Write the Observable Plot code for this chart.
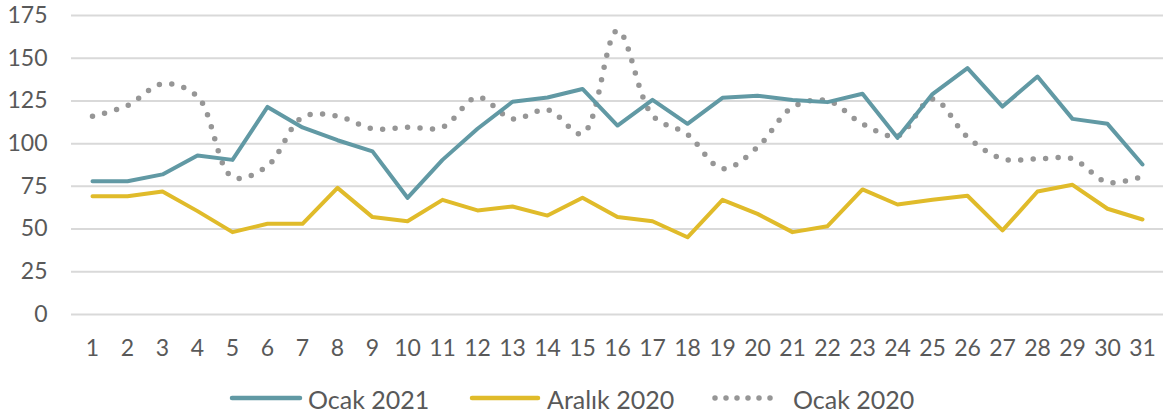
<!DOCTYPE html>
<html>
<head>
<meta charset="utf-8">
<script src="https://cdn.jsdelivr.net/npm/d3@7"></script>
<script src="https://cdn.jsdelivr.net/npm/@observablehq/plot@0.6"></script>
<style>
  body { margin: 0; background: #fff; font-family: Lato, sans-serif; }
  #legend { position: relative; width: 1172px; height: 45px; }
  #legend svg { position: absolute; left: 0; top: 0; }
</style>
</head>
<body>
<div id="chart"></div>
<div id="legend"></div>
<script>
const days = d3.range(1, 32).map(String);
const ocak2021 = [78, 78, 82, 93, 90.5, 121.5, 109.5, 102, 95.5, 68.3, 90.5, 108.7, 124.5, 127, 132, 110.6, 125.6, 111.6, 126.8, 128, 125.6, 124.3, 129.2, 103.4, 129, 144.2, 121.7, 139.3, 114.5, 111.6, 87.8];
const aralik2020 = [69.2, 69.2, 72, 60.5, 48.2, 53.1, 53.1, 74.1, 57, 54.6, 67.1, 60.9, 63.2, 57.9, 68.3, 57, 54.6, 45.2, 67.1, 58.9, 48.2, 51.7, 73.2, 64.4, 67.1, 69.5, 49.2, 72, 75.9, 61.9, 55.6];
const ocak2020 = [116, 122.3, 135, 127.6, 80.4, 87, 115.5, 116.1, 108.7, 109.6, 109.6, 127.2, 114.5, 119.8, 105.8, 166.2, 116.5, 105.4, 85.3, 97.9, 121.3, 125.2, 111.6, 104.5, 126.2, 103.8, 91.1, 91.1, 91.1, 77.4, 80.8];
const seriesNames = ["Ocak 2021", "Aralık 2020", "Ocak 2020"];
const colors = ["#6199a4", "#e0bb2a", "#969696"];
const yTicks = [0, 25, 50, 75, 100, 125, 150, 175];

const toRows = (vals) => days.map((d, i) => ({day: d, value: vals[i]}));

const chart = Plot.plot({
  width: 1172,
  height: 370,
  marginLeft: 71,
  marginRight: 9,
  marginTop: 15,
  marginBottom: 56,
  style: {fontFamily: "Lato, sans-serif", fontSize: "23px", color: "#595959", background: "#fff"},
  x: {type: "point", domain: days, padding: 0.5, label: null, tickSize: 0, tickPadding: 25},
  y: {domain: [0, 175], ticks: yTicks, label: null, tickSize: 0, tickPadding: 24},
  marks: [
    Plot.gridY(yTicks, {stroke: "#d9d9d9", strokeOpacity: 1, strokeWidth: 2}),
    Plot.line(toRows(ocak2020), {x: "day", y: "value", stroke: colors[2], strokeWidth: 5.5, strokeDasharray: "0 12.5", strokeLinecap: "round", curve: "catmull-rom"}),
    Plot.line(toRows(aralik2020), {x: "day", y: "value", stroke: colors[1], strokeWidth: 4}),
    Plot.line(toRows(ocak2021), {x: "day", y: "value", stroke: colors[0], strokeWidth: 4})
  ]
});
document.getElementById("chart").appendChild(chart);

// legend (positions in pixels of the legend strip)
const legendItems = [
  {x1: 232, x2: 300, tx: 308},
  {x1: 472, x2: 538, tx: 547},
  {x1: 715, x2: 781, tx: 793}
];
const lsvg = d3.select("#legend").append("svg").attr("width", 1172).attr("height", 45);
legendItems.forEach((it, i) => {
  const ln = lsvg.append("line")
    .attr("x1", it.x1).attr("x2", it.x2).attr("y1", 28).attr("y2", 28)
    .attr("stroke", colors[i]).attr("stroke-linecap", "round");
  if (i === 2) ln.attr("stroke-width", 5.5).attr("stroke-dasharray", "0 11");
  else ln.attr("stroke-width", 4.5);
  lsvg.append("text")
    .attr("x", it.tx).attr("y", 30).attr("dy", "0.35em")
    .attr("fill", "#595959").attr("font-size", 25).attr("font-family", "Lato, sans-serif")
    .text(seriesNames[i]);
});
</script>
</body>
</html>
